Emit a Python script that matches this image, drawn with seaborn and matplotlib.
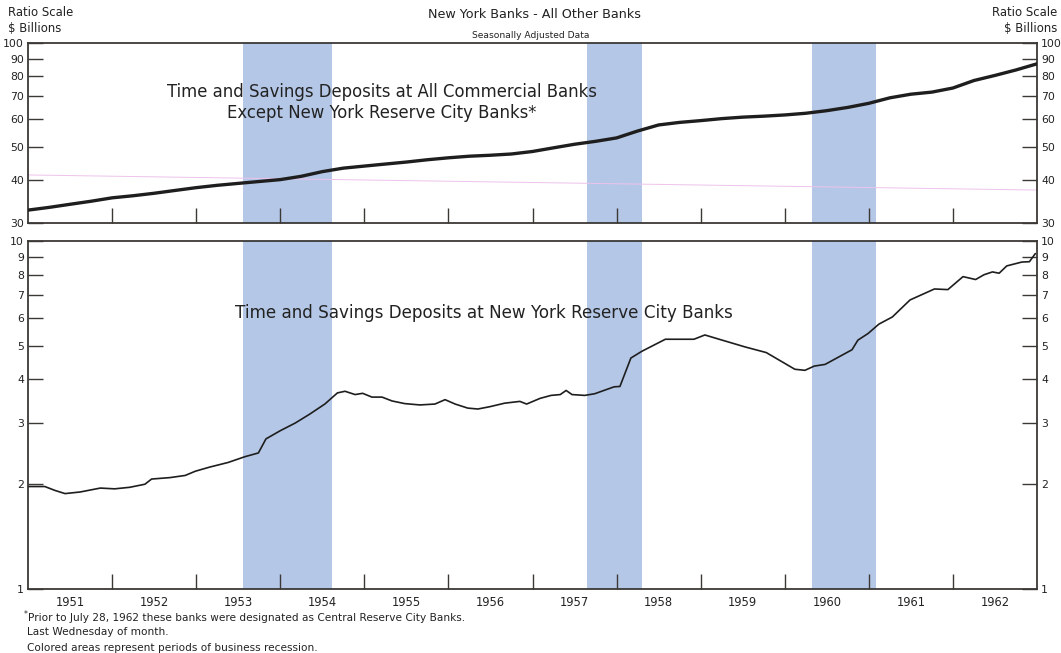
import matplotlib
matplotlib.use("Agg")
import matplotlib.pyplot as plt
from matplotlib.ticker import FixedLocator, FixedFormatter, NullLocator
import seaborn as sns

# Time and savings deposits at all commercial banks except New York reserve city banks ($ billions)
other_dates = [1951.0, 1951.25, 1951.5, 1951.75, 1952.0, 1952.25, 1952.5, 1952.75,
               1953.0, 1953.25, 1953.5, 1953.75, 1954.0, 1954.25, 1954.5, 1954.75,
               1955.0, 1955.25, 1955.5, 1955.75, 1956.0, 1956.25, 1956.5, 1956.75,
               1957.0, 1957.25, 1957.5, 1957.75, 1958.0, 1958.25, 1958.5, 1958.75,
               1959.0, 1959.25, 1959.5, 1959.75, 1960.0, 1960.25, 1960.5, 1960.75,
               1961.0, 1961.25, 1961.5, 1961.75, 1962.0, 1962.25, 1962.5, 1962.75,
               1963.0]
other_values = [32.7, 33.3, 34.0, 34.7, 35.5, 36.0, 36.6, 37.3,
                38.0, 38.6, 39.1, 39.6, 40.1, 41.0, 42.3, 43.3,
                43.9, 44.5, 45.1, 45.8, 46.4, 46.9, 47.2, 47.6,
                48.4, 49.6, 50.8, 51.8, 53.0, 55.5, 57.8, 58.8,
                59.5, 60.3, 60.9, 61.3, 61.8, 62.5, 63.6, 65.0,
                66.8, 69.3, 71.0, 72.0, 74.0, 77.8, 80.5, 83.5,
                87.0]

# Time and savings deposits at New York reserve city banks ($ billions)
ny_dates = [1951.01, 1951.20, 1951.32, 1951.44, 1951.62, 1951.86, 1952.03, 1952.21,
            1952.39, 1952.47, 1952.69, 1952.87, 1952.99, 1953.16, 1953.38, 1953.58,
            1953.74, 1953.83, 1954.00, 1954.18, 1954.35, 1954.53, 1954.68, 1954.77,
            1954.89, 1954.98, 1955.09, 1955.21, 1955.33, 1955.48, 1955.66, 1955.84,
            1955.96, 1956.08, 1956.23, 1956.35, 1956.49, 1956.67, 1956.85, 1956.93,
            1957.09, 1957.22, 1957.33, 1957.40, 1957.47, 1957.62, 1957.74, 1957.97,
            1958.04, 1958.17, 1958.30, 1958.58, 1958.92, 1959.05, 1959.22, 1959.53,
            1959.78, 1960.12, 1960.24, 1960.35, 1960.48, 1960.80, 1960.87, 1960.99,
            1961.12, 1961.28, 1961.49, 1961.78, 1961.94, 1962.12, 1962.27, 1962.37,
            1962.47, 1962.55, 1962.64, 1962.82, 1962.91, 1962.98]
ny_values = [1.97, 1.97, 1.92, 1.88, 1.90, 1.95, 1.94, 1.96,
             2.00, 2.07, 2.09, 2.12, 2.18, 2.24, 2.31, 2.40,
             2.46, 2.70, 2.85, 3.00, 3.18, 3.40, 3.66, 3.70,
             3.62, 3.65, 3.56, 3.56, 3.47, 3.41, 3.38, 3.40,
             3.50, 3.40, 3.31, 3.29, 3.34, 3.42, 3.46, 3.40,
             3.53, 3.60, 3.62, 3.72, 3.62, 3.60, 3.64, 3.81,
             3.82, 4.61, 4.82, 5.22, 5.22, 5.37, 5.22, 4.96,
             4.78, 4.28, 4.25, 4.37, 4.42, 4.87, 5.19, 5.42,
             5.77, 6.05, 6.77, 7.28, 7.25, 7.90, 7.75, 8.00,
             8.15, 8.08, 8.48, 8.70, 8.72, 9.20]

# Business recessions (start, end)
recession_starts = [1953.56, 1957.65, 1960.33]
recession_ends = [1954.62, 1958.30, 1961.08]

years = list(range(1951, 1963))
top_ticks = [30, 40, 50, 60, 70, 80, 90, 100]
bottom_ticks = [1, 2, 3, 4, 5, 6, 7, 8, 9, 10]

sns.set_theme(style="white")
plt.rcParams["font.family"] = ["DejaVu Sans"]

W, H = 1061, 653
fig = plt.figure(figsize=(W / 100, H / 100), dpi=100)
fig.patch.set_facecolor("white")

x0, x1 = 28, 1037
ax_top = fig.add_axes([x0 / W, 1 - 223 / H, (x1 - x0) / W, 180 / H])
ax_bot = fig.add_axes([x0 / W, 1 - 589 / H, (x1 - x0) / W, 348 / H])

ink = "#1e1e1e"
frame = "#3b3835"
band = "#b4c7e6"
text_color = "#222222"

for ax in (ax_top, ax_bot):
    ax.set_facecolor("white")
    for s, e in zip(recession_starts, recession_ends):
        ax.axvspan(s, e, color=band, lw=0, zorder=0)

sns.lineplot(x=other_dates, y=other_values, ax=ax_top, color=ink,
             linewidth=2.4, zorder=3)
sns.lineplot(x=ny_dates, y=ny_values, ax=ax_bot, color=ink,
             linewidth=1.2, zorder=3)

# faint pink guide line across the upper panel
ax_top.plot([0, 1], [0.267, 0.183], transform=ax_top.transAxes,
            color="#eec3ec", lw=0.7, zorder=1)

for ax, ticks, lim in ((ax_top, top_ticks, (30, 100)), (ax_bot, bottom_ticks, (1, 10))):
    ax.set_yscale("log")
    ax.set_ylim(*lim)
    ax.set_xlim(1951, 1963)
    ax.yaxis.set_major_locator(FixedLocator(ticks))
    ax.yaxis.set_major_formatter(FixedFormatter([str(t) for t in ticks]))
    ax.yaxis.set_minor_locator(NullLocator())
    ax.tick_params(axis="y", which="major", direction="in", length=11, width=1.0,
                   left=True, right=True, labelleft=True, labelright=True,
                   labelsize=7.8, pad=3, color=frame, labelcolor=text_color)
    ax.tick_params(axis="y", which="minor", left=False, right=False)
    ax.xaxis.set_major_locator(FixedLocator(years[1:]))
    ax.xaxis.set_major_formatter(FixedFormatter([""] * len(years[1:])))
    ax.xaxis.set_minor_locator(FixedLocator([y + 0.5 for y in years]))
    ax.tick_params(axis="x", which="major", direction="in", length=11, width=1.0,
                   bottom=True, top=False, color=frame)
    ax.tick_params(axis="x", which="minor", length=0, bottom=True, top=False,
                   labelsize=8.3, pad=5, labelcolor=text_color)
    ax.set_xlabel("")
    ax.set_ylabel("")
    for sp in ax.spines.values():
        sp.set_visible(True)
        sp.set_color(frame)
        sp.set_linewidth(1.3)

ax_top.xaxis.set_minor_formatter(FixedFormatter([""] * len(years)))
ax_bot.xaxis.set_minor_formatter(FixedFormatter([str(y) for y in years]))


def ftext(x, y, s, **kw):
    kw.setdefault("color", text_color)
    fig.text(x / W, 1 - y / H, s, **kw)


ftext(8, 13, "Ratio Scale", ha="left", va="center", fontsize=8.4)
ftext(8, 29, "$ Billions", ha="left", va="center", fontsize=8.4)
ftext(1057, 13, "Ratio Scale", ha="right", va="center", fontsize=8.4)
ftext(1057, 29, "$ Billions", ha="right", va="center", fontsize=8.4)
ftext(535, 14, "New York Banks - All Other Banks", ha="center", va="center", fontsize=9.2)
ftext(531, 35, "Seasonally Adjusted Data", ha="center", va="center", fontsize=6.6)

ftext(382, 92, "Time and Savings Deposits at All Commercial Banks",
      ha="center", va="center", fontsize=11.9)
ftext(382, 113, "Except New York Reserve City Banks*",
      ha="center", va="center", fontsize=11.9)
ftext(484, 313, "Time and Savings Deposits at New York Reserve City Banks",
      ha="center", va="center", fontsize=12.1)

ftext(24, 614, "*", ha="left", va="center", fontsize=5.5)
ftext(28, 618, "Prior to July 28, 1962 these banks were designated as Central Reserve City Banks.",
      ha="left", va="center", fontsize=7.6)
ftext(27, 632, "Last Wednesday of month.", ha="left", va="center", fontsize=7.6)
ftext(27, 648, "Colored areas represent periods of business recession.",
      ha="left", va="center", fontsize=7.6)

fig.savefig("out.png", dpi=100, facecolor="white")
